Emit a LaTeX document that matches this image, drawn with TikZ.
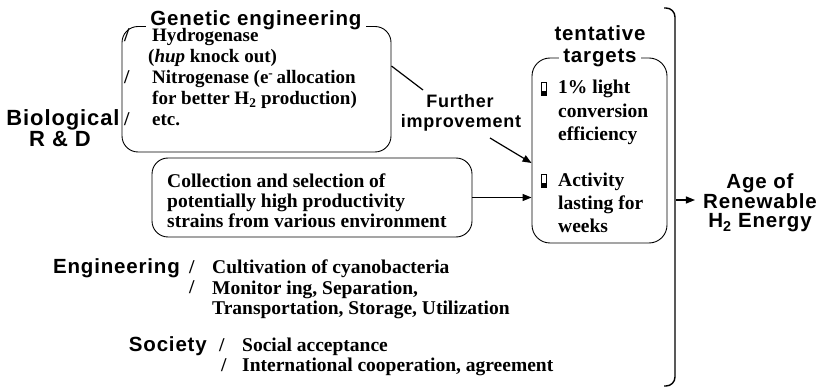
\documentclass[tikz,border=0pt]{standalone}
\usepackage{fontspec}
\setmainfont{Liberation Serif}
\newfontfamily\headfont[LetterSpace=4]{Liberation Sans}
\usetikzlibrary{arrows.meta}

% multi-line text whose baseline is the first line
\newcommand\stackL[1]{\begin{tabular}[t]{@{}l@{}}#1\end{tabular}}

\tikzset{
  head/.style={font=\headfont\bfseries\fontsize{20.5}{22}\selectfont, inner sep=0pt, anchor=base},
  big/.style={head, font=\headfont\bfseries\fontsize{22}{24}\selectfont},
  small/.style={head, font=\headfont\bfseries\fontsize{18}{20}\selectfont},
  caption/.style={head, fill=white, inner xsep=4pt, text depth=1.5pt},
  body/.style={font=\bfseries\fontsize{19.5}{21}\selectfont, inner sep=0pt, anchor=base west},
  frame/.style={draw, rounded corners=16pt, line width=0.9pt, inner sep=0pt},
  link/.style={line width=1.2pt},
  arr/.style={link, -{Triangle[length=9pt,width=7pt]}},
  cell/.style={line width=0.8pt}
}

\begin{document}
\begin{tikzpicture}[x=1pt,y=-1pt]
\useasboundingbox (0,0) rectangle (819,387);

% ---- left heading
\node[big] (bio1) at (63,126) {Biological};
\node[big] (bio2) at (60,147) {R \& D};

% ---- genetic engineering box
\node[frame, minimum width=269pt, minimum height=125.5pt] (gen) at (256.5,89.25) {};
\node[caption] (genh) at (256,25.5) {Genetic engineering};
\node[body] (gs1) at (124,42) {/};
\node[body] (gs2) at (124,84) {/};
\node[body] (gs3) at (124,126) {/};
\node[body, font=\bfseries\fontsize{19}{21}\selectfont] (gtxt) at (152,42)
  {\stackL{Hydrogenase\\\hspace{-4pt}(\textit{hup} knock out)\\Nitrogenase (e\textsuperscript{-}\,allocation\\for better H\textsubscript{2} production)\\etc.}};

% ---- collection box
\node[frame, minimum width=320pt, minimum height=79pt] (coll) at (312,197.5) {};
\node[body, font=\bfseries\fontsize{19.5}{20}\selectfont] (ctxt) at (167,188)
  {\stackL{Collection and selection of\\potentially high productivity\\strains from various environment}};

% ---- further improvement
\node[small] (fur1) at (460,108) {Further};
\node[small] (fur2) at (461,128) {improvement};

% ---- tentative targets box
\node[frame, rounded corners=18pt, minimum width=135pt, minimum height=185pt] (tgt) at (599.5,150.5) {};
\node[head] (tent) at (600,41) {tentative};
\node[caption, text depth=] (targ) at (600,63) {targets};
\draw[cell] (541,82) rectangle (546,95);
\fill (541,91) rectangle (546,95);
\draw[cell] (541,174) rectangle (546,187);
\fill (541,183) rectangle (546,187);
\node[body, font=\bfseries\fontsize{19.5}{23.5}\selectfont] (t1) at (558,94) {\stackL{1\% light\\conversion\\efficiency}};
\node[body, font=\bfseries\fontsize{19.5}{23}\selectfont] (t2) at (558,187) {\stackL{Activity\\lasting for\\weeks}};

% ---- closing bracket and outcome
\draw[line width=1.4pt, rounded corners=9pt] (664,8) -- (675,8) -- (675,386) -- (664,386);
\node[head] (age1) at (760,189) {Age of};
\node[head] (age2) at (760,208.5) {Renewable};
\node[head] (age3) at (760,228) {H\textsubscript{2} Energy};

% ---- engineering
\node[head, anchor=base east] (eng) at (180,274) {Engineering};
\node[body] (es1) at (189,274) {/};
\node[body] (es2) at (189,294) {/};
\node[body, font=\bfseries\fontsize{19.5}{20.5}\selectfont] (etxt) at (212,274)
  {\stackL{Cultivation of cyanobacteria\\Monitor ing, Separation,\\Transportation, Storage, Utilization}};

% ---- society
\node[head, anchor=base east] (soc) at (207,351) {Society};
\node[body] (ss1) at (219,351) {/};
\node[body] (ss2) at (221,371) {/};
\node[body, font=\bfseries\fontsize{19.5}{20}\selectfont] (stxt) at (242,351)
  {\stackL{Social acceptance\\International cooperation, agreement}};

% ---- connectors
\coordinate (gout) at (gen.east |- 0,66);
\coordinate (furin) at (423,90);
\coordinate (furout) at (490,138);
\coordinate (tin) at (tgt.west |- 0,163);
\coordinate (brk) at (676,200);
\draw[link] (gout) -- (furin);
\draw[arr] (furout) -- (tin);
\draw[arr] (coll.east) -- (tgt.west |- coll.east);
\draw[arr] (brk) -- (age2.west |- brk) [shorten >=8pt];
\end{tikzpicture}
\end{document}
